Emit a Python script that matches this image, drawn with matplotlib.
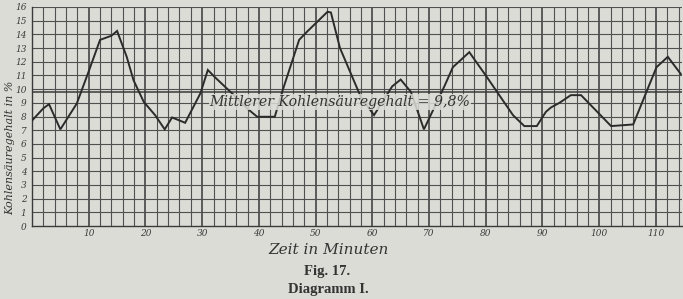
import matplotlib
matplotlib.use("Agg")
import matplotlib.pyplot as plt
import numpy as np

# Data
minutes = [0, 2, 3, 5, 7.9, 10, 12, 14, 15, 16.7, 17.9, 19.7, 21.7, 23.4, 24.7, 27, 29.7,
           31, 32.3, 35.6, 37.9, 39.7, 42.8, 44.1, 47.1, 48.5, 52.1, 52.7, 54.3, 58, 60.3,
           63.5, 65, 66.8, 69.1, 72.7, 74.2, 77.1, 80, 84.8, 86.8, 89, 90.6, 91.5, 93,
           95, 96.8, 102.1, 106, 110.1, 112.1, 114.4]
co2 = [7.7, 8.6, 8.9, 7.06, 8.95, 11.3, 13.6, 13.9, 14.25, 12.36, 10.65, 9.07, 8.1, 7.06,
       7.93, 7.54, 9.7, 11.4, 10.85, 9.56, 8.6, 7.98, 7.98, 9.8, 13.6, 14.2, 15.65, 15.6,
       13.0, 9.4, 8.1, 10.2, 10.7, 9.8, 7.06, 10.2, 11.6, 12.7, 11.0, 8.1, 7.3, 7.3, 8.34,
       8.66, 9.0, 9.56, 9.56, 7.3, 7.42, 11.6, 12.36, 11.1]
mean_value = 9.8
x_ticks = [10, 20, 30, 40, 50, 60, 70, 80, 90, 100, 110]
y_ticks = list(range(0, 17))

paper = "#dcdcd6"
ink = "#2b2b2b"

fig = plt.figure(figsize=(6.83, 2.99), dpi=100, facecolor=paper)
ax = fig.add_axes([32 / 683, 73 / 299, 650 / 683, 219 / 299])
ax.set_facecolor(paper)
ax.set_xlim(0, 114.6)
ax.set_ylim(0, 16)

# grid
for gx in range(2, 115, 2):
    lw = 1.3 if gx % 10 == 0 else 0.8
    ax.axvline(gx, color="#505050", lw=lw, zorder=1)
for gy in range(1, 17):
    ax.axhline(gy, color="#505050", lw=0.8, zorder=1)

ax.axhline(mean_value, color="#3a3a3a", lw=1.1, zorder=1)

ax.plot(minutes, co2, color=ink, lw=1.4, zorder=3, solid_joinstyle="miter")

for s in ["top", "right"]:
    ax.spines[s].set_visible(False)
for s in ["left", "bottom"]:
    ax.spines[s].set_color("#3a3a3a")
    ax.spines[s].set_linewidth(1.0)

ax.set_xticks(x_ticks)
ax.set_yticks(y_ticks)
ax.tick_params(axis="x", length=0, pad=2, colors="#3a3a3a")
ax.tick_params(axis="y", length=0, pad=4, colors="#3a3a3a")
for lab in ax.get_xticklabels() + ax.get_yticklabels():
    lab.set_fontstyle("italic")
    lab.set_fontfamily("DejaVu Serif")
    lab.set_fontsize(6.5)

ax.text(54.3, 9.05, "Mittlerer Kohlensäuregehalt = 9,8%", ha="center", va="center",
        fontsize=10.2, fontstyle="italic", family="DejaVu Serif", color="#333333",
        zorder=4, bbox=dict(boxstyle="square,pad=0.05", fc=paper, ec="none", alpha=0.85))

fig.text(10 / 683, 1 - 148 / 299, "Kohlensäuregehalt in %", rotation=90, ha="center",
         va="center", fontsize=8, fontstyle="italic", family="DejaVu Serif", color="#333333")
fig.text(329 / 683, 1 - 250 / 299, "Zeit in Minuten", ha="center", va="center",
         fontsize=11, fontstyle="italic", family="DejaVu Serif", color="#333333")
fig.text(327 / 683, 1 - 271 / 299, "Fig. 17.", ha="center", va="center",
         fontsize=10.5, family="Liberation Serif", weight="bold", color="#333333")
fig.text(328 / 683, 1 - 289 / 299, "Diagramm I.", ha="center", va="center",
         fontsize=10.5, family="Liberation Serif", weight="bold", color="#333333")

fig.savefig("out.png", dpi=100, facecolor=paper)
